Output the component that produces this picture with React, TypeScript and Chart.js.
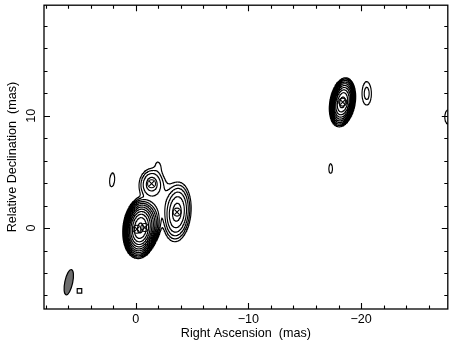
import React, { useEffect, useRef } from 'react';
import { Chart, registerables } from 'chart.js';
Chart.register(...registerables);

// Axis extents (mas)
const raRange = [-27.7, 8.15];
const decRange = [-7.21, 19.85];
const raMajorTicks = [0, -10, -20];
const raMajorLabels = ['0', '\u221210', '\u221220'];
const raMinorTicks = [8, 6, 4, 2, -2, -4, -6, -8, -12, -14, -16, -18, -22, -24, -26];
const decMajorTicks = [0, 10];
const decMajorLabels = ['0', '10'];
const decMinorTicks = [-6, -4, -2, 2, 4, 6, 8, 12, 14, 16, 18];
const xTitle = 'Right Ascension  (mas)';
const yTitle = 'Relative Declination  (mas)';

// Gaussian source components (RA offset, Dec offset in mas; peak in units of lowest contour)
const compRA = [-0.4, -1.1, -2.2, -1.4, -2.0, -3.65, 2.1, -18.35, -20.5, -17.3, -27.75];
const compDec = [0.0, 0.4, 2.5, 3.95, 5.6, 1.4, 4.3, 11.2, 12.0, 5.3, 9.9];
const compPeak = [2500, 60, 2.3, 12, 1.1, 45, 1.3, 700, 2.6, 1.15, 1.5];
const compSigMaj = [0.69, 0.7, 1.1, 0.6, 0.5, 0.95, 0.85, 0.61, 0.75, 0.8, 0.7];
const compSigMin = [0.39, 0.4, 1.0, 0.48, 0.3, 0.45, 0.3, 0.31, 0.3, 0.3, 0.35];
const compTilt = [6, 5, 0, 5, -10, 5, 5, 10, 0, 0, 0];

// contour levels (multiples of the lowest contour)
const contourLevels = [1, 2, 4, 8, 16, 32, 64, 128, 256, 512, 1024, 2048];

// model component markers
const markerRA = [-0.1, -0.8, -1.4, -3.66, -18.37];
const markerDec = [-0.1, 0.05, 3.95, 1.42, 11.22];

// restoring beam
const beamRA = 5.95;
const beamDec = -4.82;
const beamMajor = 2.3;
const beamMinor = 0.7;
const beamPA = 12;
const boxRA = [5.0];
const boxDec = [-5.6];

function field(X: number, Y: number) {
  let s = 0;
  for (let k = 0; k < compRA.length; k++) {
    const u = X - compRA[k];
    const v = Y - compDec[k];
    const t = (compTilt[k] * Math.PI) / 180;
    const a = -u * Math.sin(t) + v * Math.cos(t);
    const b = u * Math.cos(t) + v * Math.sin(t);
    s += compPeak[k] * Math.exp(-0.5 * ((a * a) / (compSigMaj[k] ** 2) + (b * b) / (compSigMin[k] ** 2)));
  }
  return s;
}

function contourPoints() {
  const x0 = -28.6, x1 = 8.6, y0 = -7.6, y1 = 20.4, step = 0.06;
  const nx = Math.ceil((x1 - x0) / step) + 1;
  const ny = Math.ceil((y1 - y0) / step) + 1;
  const f = new Float64Array(nx * ny);
  for (let j = 0; j < ny; j++) {
    for (let i = 0; i < nx; i++) {
      f[j * nx + i] = field(x0 + i * step, y0 + j * step);
    }
  }
  const pts: { x: number; y: number }[] = [];
  for (const L of contourLevels) {
    for (let j = 0; j < ny - 1; j++) {
      for (let i = 0; i < nx - 1; i++) {
        const v00 = f[j * nx + i];
        const v10 = f[j * nx + i + 1];
        const v11 = f[(j + 1) * nx + i + 1];
        const v01 = f[(j + 1) * nx + i];
        const idx = (v00 > L ? 1 : 0) | (v10 > L ? 2 : 0) | (v11 > L ? 4 : 0) | (v01 > L ? 8 : 0);
        if (idx === 0 || idx === 15) continue;
        const X = x0 + i * step;
        const Y = y0 + j * step;
        const edge = (e: number) => {
          if (e === 0) return { x: X + step * (L - v00) / (v10 - v00), y: Y };
          if (e === 1) return { x: X + step, y: Y + step * (L - v10) / (v11 - v10) };
          if (e === 2) return { x: X + step * (L - v01) / (v11 - v01), y: Y + step };
          return { x: X, y: Y + step * (L - v00) / (v01 - v00) };
        };
        let pairs: number[][] = [];
        const c = (v00 + v10 + v11 + v01) / 4;
        switch (idx) {
          case 1: case 14: pairs = [[3, 0]]; break;
          case 2: case 13: pairs = [[0, 1]]; break;
          case 3: case 12: pairs = [[3, 1]]; break;
          case 4: case 11: pairs = [[1, 2]]; break;
          case 6: case 9: pairs = [[0, 2]]; break;
          case 7: case 8: pairs = [[3, 2]]; break;
          case 5: pairs = c > L ? [[0, 1], [2, 3]] : [[3, 0], [1, 2]]; break;
          case 10: pairs = c > L ? [[3, 0], [1, 2]] : [[0, 1], [2, 3]]; break;
        }
        for (const p of pairs) {
          pts.push(edge(p[0]), edge(p[1]), { x: NaN, y: NaN });
        }
      }
    }
  }
  return pts;
}

const FONT = '12.6px "Liberation Sans", Arial, Helvetica, sans-serif';

const decoPlugin = {
  id: 'deco',
  beforeDatasetsDraw(chart: any) {
    const { ctx, scales } = chart;
    const x = scales.x, y = scales.y;
    const cx = x.getPixelForValue(beamRA);
    const cy = y.getPixelForValue(beamDec);
    const rx = Math.abs(x.getPixelForValue(beamRA - beamMinor / 2) - cx);
    const ry = Math.abs(y.getPixelForValue(beamDec + beamMajor / 2) - cy);
    ctx.save();
    ctx.beginPath();
    ctx.ellipse(cx, cy, rx, ry, (beamPA * Math.PI) / 180, 0, Math.PI * 2);
    ctx.fillStyle = '#6e6e6e';
    ctx.fill();
    ctx.lineWidth = 1.2;
    ctx.strokeStyle = '#000';
    ctx.stroke();
    ctx.restore();
  },
  afterDraw(chart: any) {
    const { ctx, chartArea: a, scales } = chart;
    const x = scales.x, y = scales.y;
    ctx.save();
    ctx.strokeStyle = '#000';
    ctx.lineWidth = 1.3;
    ctx.strokeRect(a.left, a.top, a.right - a.left, a.bottom - a.top);
    ctx.lineWidth = 1.1;
    ctx.beginPath();
    const tickX = (v: number, len: number) => {
      const p = Math.round(x.getPixelForValue(v)) + 0.5;
      ctx.moveTo(p, a.bottom); ctx.lineTo(p, a.bottom - len);
      ctx.moveTo(p, a.top); ctx.lineTo(p, a.top + len);
    };
    const tickY = (v: number, len: number) => {
      const p = Math.round(y.getPixelForValue(v)) + 0.5;
      ctx.moveTo(a.left, p); ctx.lineTo(a.left + len, p);
      ctx.moveTo(a.right, p); ctx.lineTo(a.right - len, p);
    };
    raMajorTicks.forEach((v) => tickX(v, 6));
    raMinorTicks.forEach((v) => tickX(v, 3.5));
    decMajorTicks.forEach((v) => tickY(v, 6));
    decMinorTicks.forEach((v) => tickY(v, 3.5));
    ctx.stroke();

    ctx.fillStyle = '#000';
    ctx.font = FONT;
    ctx.textAlign = 'center';
    ctx.textBaseline = 'middle';
    raMajorTicks.forEach((v, i) => {
      ctx.fillText(raMajorLabels[i], x.getPixelForValue(v), a.bottom + 11);
    });
    ctx.fillText(xTitle, (a.left + a.right) / 2, a.bottom + 25);
    decMajorTicks.forEach((v, i) => {
      ctx.save();
      ctx.translate(a.left - 12, y.getPixelForValue(v));
      ctx.rotate(-Math.PI / 2);
      ctx.fillText(decMajorLabels[i], 0, 0);
      ctx.restore();
    });
    ctx.save();
    ctx.translate(a.left - 31, (a.top + a.bottom) / 2);
    ctx.rotate(-Math.PI / 2);
    ctx.fillText(yTitle, 0, 0);
    ctx.restore();
    ctx.restore();
  },
};

export default function App() {
  const ref = useRef<HTMLCanvasElement | null>(null);
  useEffect(() => {
    if (!ref.current) return;
    const contour = contourPoints();
    const markers = markerRA.map((v, i) => ({ x: v, y: markerDec[i] }));
    const chart = new Chart(ref.current, {
      type: 'scatter',
      data: {
        datasets: [
          {
            data: contour,
            showLine: true,
            spanGaps: false,
            pointRadius: 0,
            borderColor: '#000',
            borderWidth: 1.15,
            borderCapStyle: 'round',
            borderJoinStyle: 'round',
          } as any,
          {
            data: markers,
            pointStyle: 'crossRot',
            pointRadius: 3.5,
            borderColor: '#000',
            borderWidth: 1.1,
          },
          {
            data: markers,
            pointStyle: 'circle',
            pointRadius: 4,
            borderColor: '#000',
            backgroundColor: 'rgba(0,0,0,0)',
            borderWidth: 1.1,
          },
          {
            data: boxRA.map((v, i) => ({ x: v, y: boxDec[i] })),
            pointStyle: 'rect',
            pointRadius: 3.2,
            borderColor: '#000',
            backgroundColor: '#fff',
            borderWidth: 1.2,
          },
        ],
      },
      options: {
        responsive: false,
        animation: false,
        devicePixelRatio: 1,
        layout: { padding: { left: 44, top: 4, right: 1, bottom: 35 } },
        plugins: { legend: { display: false }, tooltip: { enabled: false } },
        events: [],
        scales: {
          x: { type: 'linear', min: raRange[0], max: raRange[1], reverse: true, display: false },
          y: { type: 'linear', min: decRange[0], max: decRange[1], display: false },
        },
      },
      plugins: [decoPlugin],
    });
    return () => chart.destroy();
  }, []);
  return (
    <div style={{ position: 'fixed', left: 0, top: 0, width: 453, height: 344, background: '#fff' }}>
      <canvas ref={ref} width={453} height={344} style={{ display: 'block' }} />
    </div>
  );
}
